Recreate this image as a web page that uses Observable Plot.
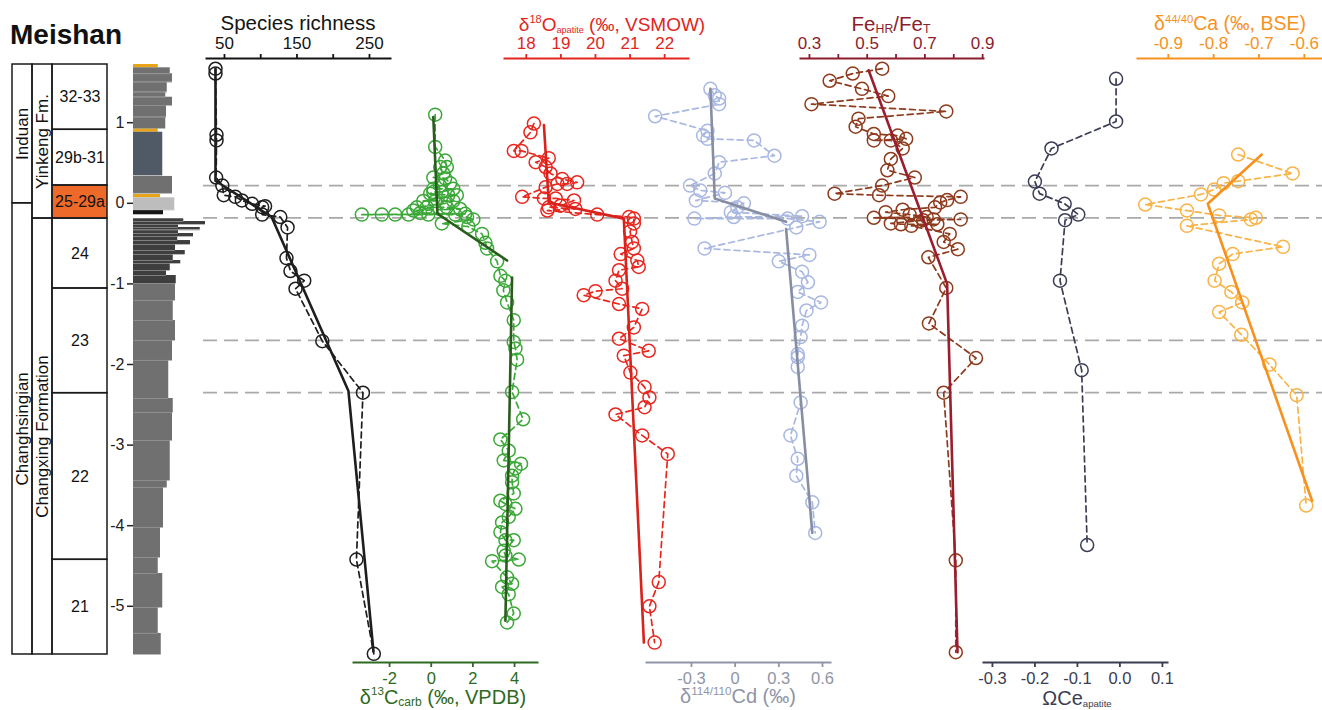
<!DOCTYPE html>
<html><head><meta charset="utf-8">
<script src="https://cdn.jsdelivr.net/npm/d3@7"></script>
<script src="https://cdn.jsdelivr.net/npm/@observablehq/plot@0.6"></script>
<style>
body{margin:0;background:#fff}
#chart{position:relative;width:1322px;height:710px;overflow:hidden;background:#fff;font-family:"Liberation Sans",Arial,sans-serif}
#chart svg{position:absolute;top:0}
.t{position:absolute;white-space:nowrap;line-height:1;transform:translateX(-50%)}
.sup{font-size:0.58em;position:relative;top:-0.7em}
.sub{font-size:0.6em;position:relative;top:0.2em}
.sub2{font-size:0.48em;position:relative;top:0.22em}
</style></head><body><div id="chart"></div>
<script>
// ---------------- DATA ----------------
// stratigraphy (heights in m)
const zoneNames = ["32-33","29b-31","25-29a","24","23","22","21"];
const zoneTops  = [1.722, 0.912, 0.221, -0.189, -1.057, -2.356, -4.423];
const sectionBase = -5.598;
const highlightZone = "25-29a";
const formNames = ["Yinkeng Fm.", "Changxing Formation"];
const formTops  = [1.722, -0.189];
const stageNames = ["Induan", "Changhsingian"];
const stageTops  = [1.722, 0.0];
const heightTicks = [1, 0, -1, -2, -3, -4, -5];
const eventHeights = [0.22, -0.18, -1.70, -2.35];

// lithology: [top, bottom, relative profile, type]
const lithology = [
 [1.722,1.681,0.33,"ash"],[1.681,1.607,0.49,"ls"],[1.607,1.502,0.52,"ls"],[1.502,1.378,0.45,"ls"],
 [1.378,1.316,0.43,"ls"],[1.316,1.213,0.52,"ls"],[1.213,1.068,0.44,"ls"],[1.068,0.928,0.43,"ls"],
 [0.928,0.882,0.33,"ash"],[0.882,0.345,0.39,"mud"],[0.333,0.122,0.52,"ls"],[0.109,0.068,0.36,"ash"],
 [0.068,-0.081,0.55,"light"],[-0.089,-0.139,0.40,"black"],
 [-0.192,-0.226,0.67,"dark"],[-0.226,-0.263,0.96,"dark"],[-0.263,-0.300,0.60,"dark"],[-0.300,-0.331,0.89,"dark"],
 [-0.331,-0.375,0.60,"dark"],[-0.375,-0.412,0.80,"dark"],[-0.412,-0.462,0.59,"dark"],[-0.462,-0.511,0.76,"dark"],
 [-0.511,-0.586,0.56,"dark"],[-0.586,-0.635,0.69,"dark"],[-0.635,-0.710,0.53,"dark"],[-0.710,-0.747,0.63,"dark"],
 [-0.747,-0.834,0.49,"dark"],[-0.834,-0.896,0.44,"dark"],[-0.896,-0.995,0.57,"dark"],
 [-0.995,-1.206,0.56,"ls"],[-1.206,-1.454,0.53,"ls"],[-1.454,-1.702,0.56,"ls"],[-1.702,-1.950,0.52,"ls"],
 [-1.950,-2.422,0.47,"ls"],[-2.422,-2.596,0.53,"ls"],[-2.596,-2.943,0.52,"ls"],[-2.943,-3.439,0.49,"ls"],
 [-3.439,-3.526,0.45,"ls"],[-3.526,-4.022,0.40,"ls"],[-4.022,-4.395,0.36,"ls"],[-4.395,-4.593,0.33,"ls"],
 [-4.593,-5.015,0.39,"ls"],[-5.015,-5.337,0.33,"ls"],[-5.337,-5.598,0.37,"ls"]
];

// series: [height, value]
const richness = [[1.67,37.6],[1.61,37.6],[0.85,39],[0.78,39],[0.32,38.5],[0.22,47],[0.10,49],[0.08,65],
 [0.035,74],[-0.006,88],[-0.036,106],[-0.048,102],[-0.14,102],[-0.17,127],[-0.30,137],[-0.68,135.5],
 [-0.84,141],[-0.96,160],[-1.06,148],[-1.71,185],[-2.35,241],[-4.42,232],[-5.59,256]];
const richnessTrend = [[1.67,37.6],[0.28,37.6],[-0.17,115],[-2.33,221],[-5.56,255.5]];

const d13C = [[1.10,0.19],[0.70,0.19],[0.53,0.67],[0.45,0.75],[0.45,0.43],[0.37,0.58],[0.32,0.10],[0.31,0.67],
 [0.25,0.91],[0.22,0.43],[0.18,0.10],[0.18,1.06],[0.14,0.51],[0.14,0.10],[0.12,-0.05],[0.10,0.82],[0.10,1.23],
 [0.03,-0.38],[0.03,0.19],[0.03,1.06],[0.00,0.67],[-0.05,-0.69],[-0.05,-0.21],[-0.05,0.75],[-0.07,1.39],
 [-0.09,-0.86],[-0.12,-0.53],[-0.13,1.63],[-0.14,-3.33],[-0.14,-2.37],[-0.14,-1.73],[-0.14,-1.09],[-0.14,-0.14],
 [-0.14,1.15],[-0.17,1.72],[-0.20,2.02],[-0.25,0.51],[-0.29,1.78],[-0.38,2.44],[-0.49,2.60],[-0.56,2.68],
 [-0.72,3.16],[-0.90,3.32],[-0.96,3.56],[-1.08,3.46],[-1.23,3.64],[-1.45,3.96],[-1.72,3.96],[-1.80,4.04],
 [-1.94,4.12],[-2.34,3.88],[-2.68,4.41],[-2.93,3.32],[-3.07,3.72],[-3.19,3.48],[-3.23,4.31],[-3.29,4.04],
 [-3.38,3.88],[-3.46,3.88],[-3.60,3.96],[-3.69,3.32],[-3.73,3.56],[-3.79,4.04],[-3.89,3.72],[-3.96,3.40],
 [-4.08,3.32],[-4.18,3.56],[-4.18,3.96],[-4.31,3.48],[-4.37,3.56],[-4.42,4.20],[-4.44,2.92],[-4.64,3.64],
 [-4.72,3.88],[-4.76,3.40],[-4.85,3.72],[-5.09,3.96],[-5.20,3.64]];
const d13CTrend = [[1.07,0.10,0],[-0.13,0.30,0],[-0.71,3.64,0],[-0.92,3.88,1],[-5.18,3.56,1]];

const d18O = [[0.99,18.22],[0.88,18.12],[0.65,17.64],[0.65,17.86],[0.56,18.65],[0.51,18.27],[0.45,18.56],
 [0.37,18.70],[0.30,19.04],[0.26,19.47],[0.24,19.18],[0.24,18.90],[0.20,18.56],[0.08,17.88],[0.06,18.51],
 [0.06,18.85],[0.035,19.38],[-0.03,18.99],[-0.05,18.65],[-0.07,19.42],[-0.09,18.61],[-0.14,20.05],
 [-0.17,20.97],[-0.19,21.11],[-0.25,21.11],[-0.35,21.0],[-0.48,21.06],[-0.56,21.11],[-0.63,20.73],
 [-0.71,21.21],[-0.79,21.25],[-0.83,20.68],[-0.96,20.58],[-1.06,20.77],[-1.09,20.00],[-1.14,19.66],
 [-1.25,20.68],[-1.31,21.35],[-1.54,21.11],[-1.68,20.68],[-1.83,21.54],[-1.89,20.82],[-2.10,21.01],
 [-2.28,21.42],[-2.41,21.56],[-2.53,21.42],[-2.62,20.58],[-2.88,21.35],[-3.11,22.09],[-4.70,21.83],
 [-5.00,21.56],[-5.45,21.71]];
const d18OTrend = [[0.97,18.51],[0.01,18.65],[-0.19,20.82],[-5.45,21.40]];

const d114Cd = [[1.42,-0.17],[1.34,-0.14],[1.30,-0.11],[1.23,-0.11],[1.08,-0.55],[0.90,-0.19],[0.84,-0.22],
 [0.80,-0.19],[0.78,0.13],[0.59,0.27],[0.51,-0.11],[0.37,-0.14],[0.22,-0.31],[0.16,-0.24],[0.13,-0.07],
 [0.035,-0.27],[0.00,0.06],[-0.05,0.015],[-0.11,-0.03],[-0.16,0.46],[-0.17,-0.01],[-0.19,-0.28],[-0.19,0.36],
 [-0.23,0.58],[-0.30,0.42],[-0.56,-0.21],[-0.64,0.51],[-0.72,0.30],[-0.85,0.46],[-0.98,0.50],[-1.10,0.43],
 [-1.23,0.59],[-1.33,0.49],[-1.52,0.46],[-1.66,0.45],[-1.87,0.43],[-1.91,0.43],[-2.03,0.43],[-2.47,0.45],
 [-2.88,0.38],[-3.17,0.43],[-3.38,0.42],[-3.71,0.53],[-4.09,0.55]];
const d114CdTrend = [[1.42,-0.17,0],[0.06,-0.14,0],[-0.23,0.35,0],[-0.32,0.35,1],[-4.09,0.53,1]];

const feRatio = [[1.67,0.552],[1.61,0.450],[1.52,0.370],[1.42,0.482],[1.33,0.573],[1.23,0.307],[1.14,0.774],
 [1.05,0.470],[0.95,0.460],[0.86,0.523],[0.84,0.606],[0.80,0.635],[0.78,0.523],[0.78,0.582],[0.68,0.623],
 [0.55,0.582],[0.41,0.570],[0.32,0.665],[0.22,0.552],[0.12,0.387],[0.10,0.541],[0.08,0.824],[0.04,0.777],
 [0.01,0.753],[-0.05,0.735],[-0.08,0.623],[-0.11,0.564],[-0.14,0.647],[-0.17,0.706],[-0.18,0.523],
 [-0.20,0.730],[-0.20,0.824],[-0.21,0.694],[-0.25,0.582],[-0.26,0.617],[-0.26,0.743],[-0.28,0.653],
 [-0.38,0.786],[-0.48,0.765],[-0.57,0.814],[-0.67,0.712],[-1.05,0.774],[-1.49,0.714],[-1.92,0.877],
 [-2.35,0.765],[-4.43,0.807],[-5.57,0.807]];
const feRatioTrend = [[1.65,0.505],[-1.00,0.777],[-5.57,0.813]];

const ceAnomaly = [[1.545,-0.009],[1.015,-0.009],[0.68,-0.161],[0.27,-0.200],[0.12,-0.189],[-0.006,-0.130],
 [-0.14,-0.098],[-0.21,-0.129],[-0.96,-0.141],[-2.07,-0.090],[-4.24,-0.077]];

const d44Ca = [[0.605,-0.746],[0.37,-0.626],[0.275,-0.746],[0.25,-0.778],[0.17,-0.799],[0.11,-0.828],
 [-0.015,-0.951],[-0.09,-0.859],[-0.15,-0.788],[-0.18,-0.707],[-0.20,-0.718],[-0.28,-0.859],[-0.54,-0.647],
 [-0.63,-0.758],[-0.75,-0.788],[-0.96,-0.798],[-1.10,-0.761],[-1.23,-0.737],[-1.35,-0.788],[-1.63,-0.739],
 [-2.00,-0.677],[-2.38,-0.617],[-3.75,-0.596]];
const d44CaTrend = [[0.605,-0.694],[-0.006,-0.813],[-3.69,-0.583]];

// ---------------- LAYOUT ----------------
const H = 710;
const FONT = "Liberation Sans, Arial, Helvetica, sans-serif";
const Y = () => ({domain: [-5, 1], range: [605.8, 122.2], axis: null});
const STYLE = {background: "transparent", overflow: "visible", fontFamily: FONT};
const chart = document.getElementById("chart");
function place(svg, left) { svg.style.left = left + "px"; chart.appendChild(svg); }
const rows = a => a.map(([h, v, s]) => ({h, v, s: s ?? 0}));

// event horizons
place(Plot.plot({
  width: 1119, height: H, margin: 0, y: Y(), style: STYLE,
  marks: [Plot.ruleY(eventHeights, {stroke: "#a9a9a9", strokeWidth: 1.8, strokeDasharray: "14,7"})]
}), 203);

// stratigraphic columns
const cells = [];
zoneNames.forEach((n, i) => cells.push({name: n, col: "zone", x1: 0.421, x2: 1, top: zoneTops[i], bottom: i + 1 < zoneTops.length ? zoneTops[i + 1] : sectionBase}));
formNames.forEach((n, i) => cells.push({name: n, col: "form", x1: 0.2105, x2: 0.421, top: formTops[i], bottom: i + 1 < formTops.length ? formTops[i + 1] : sectionBase}));
stageNames.forEach((n, i) => cells.push({name: n, col: "stage", x1: 0, x2: 0.2105, top: stageTops[i], bottom: i + 1 < stageTops.length ? stageTops[i + 1] : sectionBase}));
cells.forEach(c => { c.xc = (c.x1 + c.x2) / 2; c.mid = (c.top + c.bottom) / 2; });

place(Plot.plot({
  width: 95, height: H, margin: 0, x: {domain: [0, 1], axis: null}, y: Y(), style: STYLE,
  marks: [
    Plot.rect(cells.filter(c => c.name === highlightZone), {x1: "x1", x2: "x2", y1: "bottom", y2: "top", fill: "#ee6a2a"}),
    Plot.rect(cells, {x1: "x1", x2: "x2", y1: "bottom", y2: "top", fill: "none", stroke: "#1a1a1a", strokeWidth: 1.5}),
    Plot.text(cells.filter(c => c.col === "zone"), {x: "xc", y: "mid", text: "name", fontSize: 16, fill: "#111"}),
    Plot.text(cells.filter(c => c.col !== "zone"), {x: "xc", y: "mid", text: "name", rotate: -90, fontSize: 17, fill: "#111"})
  ]
}), 12);

// lithology + height axis
const litColors = {ash: "#e8a317", ls: "#707070", mud: "#4f5a66", light: "#bdbdbd", black: "#161616", dark: "#3e3e3e"};
const beds = lithology.map(([top, bottom, p, type]) => ({top, bottom, p, type, color: litColors[type]}));
place(Plot.plot({
  width: 108, height: H, marginLeft: 33, marginRight: 0, marginTop: 0, marginBottom: 0,
  x: {domain: [0, 1], axis: null}, y: Y(), color: {type: "identity"}, style: STYLE,
  marks: [
    Plot.rect(beds, {x1: 0, x2: "p", y1: "bottom", y2: "top", fill: "color"}),
    Plot.ruleY(beds.filter(b => b.type !== "ash"), {y: "bottom", x1: 0, x2: "p", stroke: "#9b9b9b", strokeWidth: 0.7}),
    Plot.axisY({anchor: "left", ticks: heightTicks, tickFormat: d => String(d), tickSize: 6, tickPadding: 3,
      fontSize: 16, color: "#222", stroke: "#222", fill: "#222", strokeWidth: 1.5, label: null})
  ]
}), 100);

// data panels
function panel(p) {
  const pts = rows(p.data).sort((a, b) => b.h - a.h);
  const tr = rows(p.trend || []);
  const top = p.anchor === "top";
  const svg = Plot.plot({
    width: p.width, height: H, marginLeft: 0, marginRight: 0,
    marginTop: top ? 58 : 0, marginBottom: top ? 0 : 48,
    x: {domain: p.domain, axis: null}, y: Y(), style: STYLE,
    marks: [
      Plot.frame({anchor: p.anchor, stroke: p.axisColor, strokeWidth: 2}),
      Plot.axisX({anchor: p.anchor, ticks: p.ticks, tickFormat: p.fmt, tickSize: 5, tickPadding: 5,
        fontSize: top ? 17 : 16.5, color: p.axisColor, stroke: p.axisColor, fill: p.axisColor, strokeWidth: 1.8, label: null}),
      Plot.line(pts, {x: "v", y: "h", stroke: p.ptColor, strokeWidth: 1.7, strokeDasharray: "6,4"}),
      Plot.dot(pts, {x: "v", y: "h", r: 6.5, stroke: p.ptColor, strokeWidth: 1.5, fill: "none"}),
      tr.length ? Plot.line(tr, {x: "v", y: "h", z: "s", stroke: p.trendColor, strokeWidth: 2.6}) : null
    ]
  });
  place(svg, p.left);
}

panel({left: 206, width: 184, domain: [25.2, 279], anchor: "top", ticks: [50, 100, 150, 200, 250],
  fmt: d => (d % 100 === 50 ? String(d) : ""), axisColor: "#141414", ptColor: "#1e1e1e", trendColor: "#1e1e1e",
  data: richness, trend: richnessTrend});
panel({left: 353, width: 184, domain: [-3.73, 5.10], anchor: "bottom", ticks: [-2, 0, 2, 4],
  fmt: d => String(d), axisColor: "#2e6a21", ptColor: "#3ba838", trendColor: "#2a5d1d",
  data: d13C, trend: d13CTrend});
panel({left: 504, width: 184, domain: [17.37, 22.69], anchor: "top", ticks: [18, 19, 20, 21, 22],
  fmt: d => String(d), axisColor: "#e0261e", ptColor: "#e8271f", trendColor: "#d8221c",
  data: d18O, trend: d18OTrend});
panel({left: 646, width: 184, domain: [-0.609, 0.655], anchor: "bottom", ticks: [-0.3, 0, 0.3, 0.6],
  fmt: d => (d === 0 ? "0" : d.toFixed(1)), axisColor: "#8f95a7", ptColor: "#a9b8e2", trendColor: "#878ea2",
  data: d114Cd, trend: d114CdTrend});
panel({left: 800, width: 183, domain: [0.269, 0.903], anchor: "top", ticks: [0.3, 0.4, 0.5, 0.6, 0.7, 0.8, 0.9],
  fmt: d => ([0.3, 0.5, 0.7, 0.9].includes(d) ? d.toFixed(1) : ""), axisColor: "#8b1d2c", ptColor: "#8e3a1c", trendColor: "#9a1d30",
  data: feRatio, trend: feRatioTrend});
panel({left: 983, width: 184, domain: [-0.321, 0.112], anchor: "bottom", ticks: [-0.3, -0.2, -0.1, 0, 0.1],
  fmt: d => d.toFixed(1), axisColor: "#3a3c52", ptColor: "#3c3e56", trendColor: "#3c3e56",
  data: ceAnomaly});
panel({left: 1137, width: 185, domain: [-0.968, -0.560], anchor: "top", ticks: [-0.9, -0.8, -0.7, -0.6],
  fmt: d => d.toFixed(1), axisColor: "#f7921e", ptColor: "#f9b346", trendColor: "#f7901c",
  data: d44Ca, trend: d44CaTrend});

// titles
function title(html, cx, baseline, fs, color, opts = {}) {
  const d = document.createElement("div");
  d.className = "t";
  d.innerHTML = html;
  d.style.left = cx + "px";
  d.style.top = (baseline - 0.8465 * fs) + "px";
  d.style.fontSize = fs + "px";
  d.style.color = color;
  if (opts.bold) d.style.fontWeight = "bold";
  if (opts.left) d.style.transform = "none";
  chart.appendChild(d);
}
title("Meishan", 10, 45, 28, "#111", {bold: true, left: true});
title("Species richness", 298, 30.5, 20.5, "#141414");
title('δ<span class="sup">18</span>O<span class="sub2">apatite</span> (‰, VSMOW)', 612, 31, 19, "#e0261e");
title('Fe<span class="sub">HR</span>/Fe<span class="sub">T</span>', 891, 31, 20.5, "#8b1d2c");
title('δ<span class="sup">44/40</span>Ca (‰, BSE)', 1230, 31, 19.5, "#f7921e");
title('δ<span class="sup">13</span>C<span class="sub">carb</span> (‰, VPDB)', 443, 703.5, 20, "#2e6a21");
title('δ<span class="sup">114/110</span>Cd (‰)', 738, 703, 20, "#8f95a7");
title('ΩCe<span class="sub2">apatite</span>', 1077, 704.5, 20, "#3a3c52");
</script></body></html>
